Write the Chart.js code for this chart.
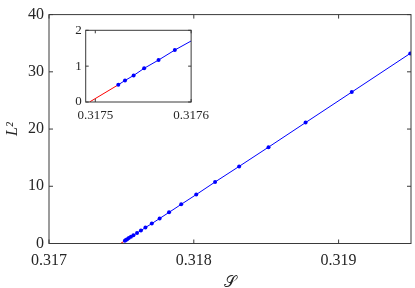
<!DOCTYPE html>
<html><head><meta charset="utf-8">
<script src="https://cdn.jsdelivr.net/npm/chart.js@4/dist/chart.umd.min.js"></script>
<style>
html,body{margin:0;padding:0;background:#fff;}
#wrap{position:relative;width:415px;height:288px;}
#main{position:absolute;left:0;top:0;}
#inset{position:absolute;left:55px;top:18px;}
</style></head><body>
<div id="wrap"><canvas id="main" width="415" height="288"></canvas><canvas id="inset" width="160" height="105"></canvas></div>
<script>
// Data
const curveS  = [0.317524, 0.317531, 0.317540, 0.317551, 0.317566, 0.317583, 0.317608, 0.317635, 0.317666, 0.317710, 0.317764, 0.317829, 0.317913, 0.318017, 0.318147, 0.318313, 0.318516, 0.318772, 0.319091, 0.319495];
const curveL2 = [0.48, 0.60, 0.74, 0.94, 1.17, 1.45, 1.82, 2.26, 2.79, 3.48, 4.37, 5.44, 6.84, 8.55, 10.75, 13.47, 16.84, 21.13, 26.46, 33.22];
const branchS  = [0.317494, 0.317524];
const branchL2 = [0, 0.48];
const mainXTicks  = [0.317, 0.318, 0.319];
const mainYTicks  = [0, 10, 20, 30, 40];
const insetXTicks = [0.3175, 0.3176];
const insetYTicks = [0, 1, 2];

const TXT = '#262626';
const pts = (xs, ys) => xs.map((x, i) => ({x, y: ys[i]}));

function framePlugin(len){
  return {id:'frame', afterDatasetsDraw(chart){
    const {ctx, chartArea:a, scales:{x, y}} = chart;
    ctx.save();
    ctx.strokeStyle = '#3a3a3a'; ctx.lineWidth = 1;
    ctx.strokeRect(a.left, a.top, a.right - a.left, a.bottom - a.top);
    ctx.beginPath();
    x.ticks.forEach(t => { const p = x.getPixelForValue(t.value);
      ctx.moveTo(p, a.bottom); ctx.lineTo(p, a.bottom - len);
      ctx.moveTo(p, a.top); ctx.lineTo(p, a.top + len); });
    y.ticks.forEach(t => { const p = y.getPixelForValue(t.value);
      ctx.moveTo(a.left, p); ctx.lineTo(a.left + len, p);
      ctx.moveTo(a.right, p); ctx.lineTo(a.right - len, p); });
    ctx.stroke();
    ctx.restore();
  }};
}

function datasets(){
  return [
    {data: pts(branchS, branchL2), showLine: true, borderColor: '#ff0000', borderWidth: 1, pointRadius: 0, order: 2},
    {data: pts(curveS, curveL2), showLine: true, borderColor: '#0000ff', backgroundColor: '#0000ff', borderWidth: 1, pointRadius: 2, pointBorderWidth: 0, order: 1}
  ];
}

function axis(min, max, ticks, fontSize, pad, fitKey, fitVal, title){
  return {
    type: 'linear', min, max,
    afterBuildTicks: s => { s.ticks = ticks.map(v => ({value: v})); },
    afterFit: s => { s[fitKey] = fitVal; },
    grid: {display: false, drawTicks: false},
    border: {display: false},
    ticks: {color: TXT, padding: pad, font: {family: 'Liberation Serif', size: fontSize}, callback: v => String(v), maxRotation: 0, autoSkip: false},
    title: title || {display: false}
  };
}

Chart.defaults.animation = false;
Chart.defaults.plugins.legend.display = false;
Chart.defaults.plugins.tooltip.enabled = false;

new Chart(document.getElementById('main'), {
  type: 'scatter',
  data: {datasets: datasets()},
  options: {
    responsive: false, devicePixelRatio: 1,
    layout: {padding: {top: 6, right: 1, left: 0, bottom: 0}},
    scales: {
      x: axis(0.317, 0.3195, mainXTicks, 16, 8, 'height', 44.5,
        {display: true, text: '𝒮', color: TXT, font: {family: 'DejaVu Serif', size: 16, lineHeight: 1.2}, padding: {top: 0, bottom: -4}}),
      y: axis(0, 40, mainYTicks, 16, 5, 'width', 49,
        {display: true, text: 'L²', color: TXT, font: {family: 'Liberation Serif', style: 'italic', size: 16, lineHeight: 1.2}, padding: {top: 3, bottom: 0}})
    }
  },
  plugins: [framePlugin(4)]
});

new Chart(document.getElementById('inset'), {
  type: 'scatter',
  data: {datasets: datasets()},
  options: {
    responsive: false, devicePixelRatio: 1,
    layout: {padding: {top: 12.3, right: 21, left: 0, bottom: 0}},
    scales: {
      x: axis(0.31749, 0.3176, insetXTicks, 13, 6, 'height', 21),
      y: axis(0, 2, insetYTicks, 13, 4, 'width', 30.7)
    }
  },
  plugins: [framePlugin(3)]
});
</script>
</body></html>
